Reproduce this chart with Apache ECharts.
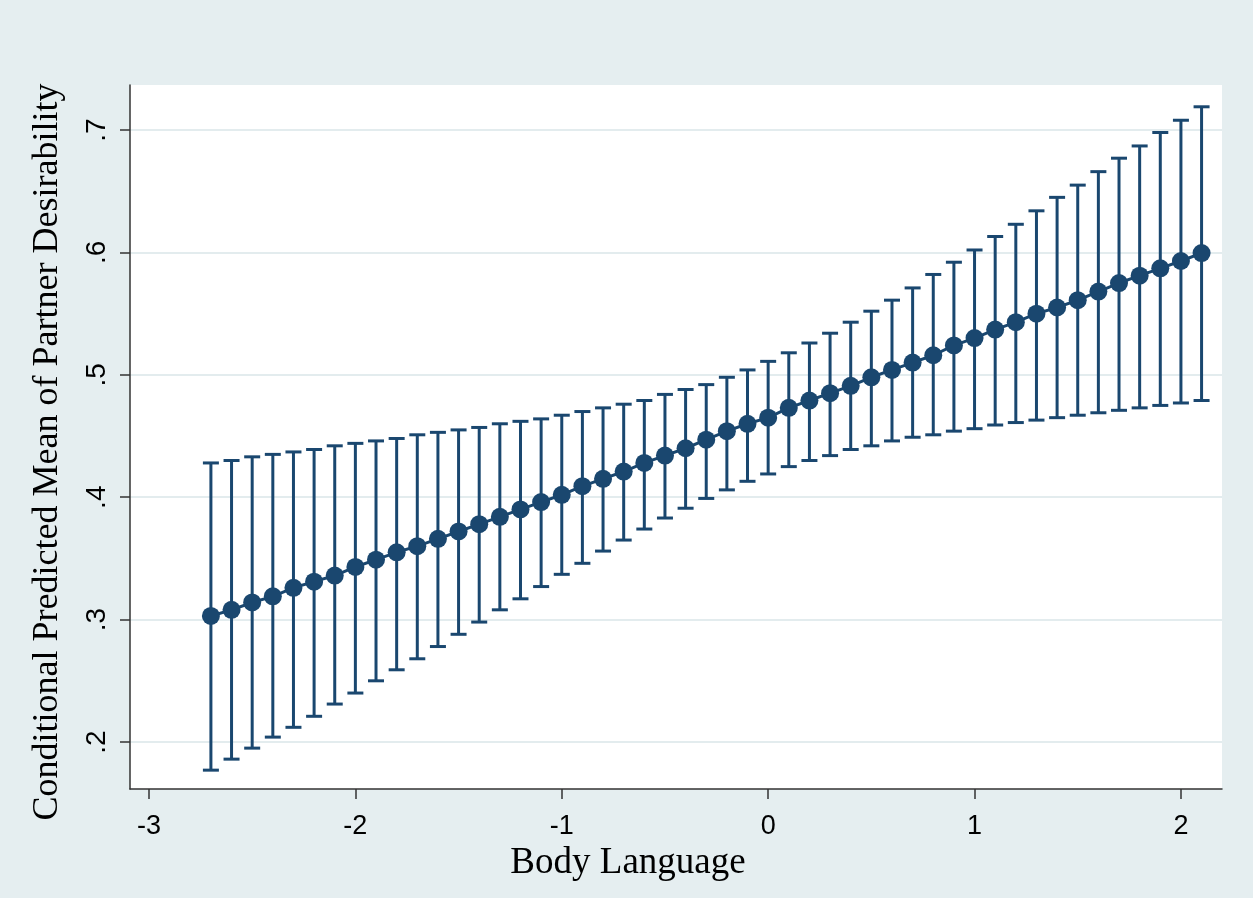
<!DOCTYPE html>
<html>
<head>
<meta charset="utf-8">
<script src="https://cdn.jsdelivr.net/npm/echarts@6/dist/echarts.min.js"></script>
<style>
  html, body { margin: 0; padding: 0; background: #e5eef0; }
  #container { width: 1253px; height: 898px; }
</style>
</head>
<body>
<div id="container"></div>
<script>
// body language values (x)
var xVals = [-2.7, -2.6, -2.5, -2.4, -2.3, -2.2, -2.1, -2.0, -1.9, -1.8,
             -1.7, -1.6, -1.5, -1.4, -1.3, -1.2, -1.1, -1.0, -0.9, -0.8,
             -0.7, -0.6, -0.5, -0.4, -0.3, -0.2, -0.1, 0.0, 0.1, 0.2,
             0.3, 0.4, 0.5, 0.6, 0.7, 0.8, 0.9, 1.0, 1.1, 1.2,
             1.3, 1.4, 1.5, 1.6, 1.7, 1.8, 1.9, 2.0, 2.1];
// predicted mean
var meanVals = [0.303, 0.308, 0.314, 0.319, 0.326, 0.331, 0.336, 0.343, 0.349, 0.355,
                0.360, 0.366, 0.372, 0.378, 0.384, 0.390, 0.396, 0.402, 0.409, 0.415,
                0.421, 0.428, 0.434, 0.440, 0.447, 0.454, 0.460, 0.465, 0.473, 0.479,
                0.485, 0.491, 0.498, 0.504, 0.510, 0.516, 0.524, 0.530, 0.537, 0.543,
                0.550, 0.555, 0.561, 0.568, 0.575, 0.581, 0.587, 0.593, 0.5995];
// upper CI
var upperVals = [0.428, 0.430, 0.433, 0.435, 0.437, 0.439, 0.442, 0.444, 0.446, 0.448,
                 0.451, 0.453, 0.455, 0.457, 0.460, 0.462, 0.464, 0.467, 0.470, 0.473,
                 0.476, 0.479, 0.484, 0.488, 0.492, 0.498, 0.504, 0.511, 0.518, 0.526,
                 0.534, 0.543, 0.552, 0.561, 0.571, 0.582, 0.592, 0.602, 0.613, 0.623,
                 0.634, 0.645, 0.655, 0.666, 0.677, 0.687, 0.698, 0.708, 0.719];
// lower CI
var lowerVals = [0.177, 0.186, 0.195, 0.204, 0.212, 0.221, 0.231, 0.240, 0.250, 0.259,
                 0.268, 0.278, 0.288, 0.298, 0.308, 0.317, 0.327, 0.337, 0.346, 0.356,
                 0.365, 0.374, 0.383, 0.391, 0.399, 0.406, 0.413, 0.419, 0.425, 0.430,
                 0.434, 0.439, 0.442, 0.446, 0.449, 0.451, 0.454, 0.456, 0.459, 0.461,
                 0.463, 0.465, 0.467, 0.469, 0.471, 0.473, 0.475, 0.477, 0.479];
var xTicks = [-3, -2, -1, 0, 1, 2];
var yTicks = [0.2, 0.3, 0.4, 0.5, 0.6, 0.7];

var navy = '#1a476f';
var myChart = echarts.init(document.getElementById('container'));

var ciData = [];
var meanData = [];
for (var i = 0; i < xVals.length; i++) {
    ciData.push([xVals[i], lowerVals[i], upperVals[i]]);
    meanData.push([xVals[i], meanVals[i]]);
}

var option = {
    backgroundColor: '#e5eef0',
    animation: false,
    grid: {
        left: 130,
        top: 85,
        width: 1092,
        height: 704,
        show: true,
        backgroundColor: '#ffffff',
        borderWidth: 0
    },
    xAxis: {
        type: 'value',
        min: -3.092,
        max: 2.199,
        name: 'Body Language',
        nameLocation: 'middle',
        nameGap: 56,
        nameTextStyle: {
            fontFamily: 'Liberation Serif',
            fontSize: 37,
            color: '#000',
            padding: [0, 96, 0, 0]
        },
        axisLine: { show: true, onZero: false, lineStyle: { color: '#333', width: 1.5 } },
        axisTick: { show: true, length: 10, customValues: xTicks, lineStyle: { color: '#333', width: 1.5 } },
        axisLabel: {
            customValues: xTicks,
            fontFamily: 'Liberation Sans',
            fontSize: 27,
            color: '#000',
            margin: 24
        },
        splitLine: { show: false }
    },
    yAxis: {
        type: 'value',
        min: 0.1616,
        max: 0.7368,
        name: 'Conditional Predicted Mean of Partner Desirability',
        nameLocation: 'middle',
        nameGap: 64,
        nameTextStyle: {
            fontFamily: 'Liberation Serif',
            fontSize: 36,
            color: '#000',
            padding: [0, 30, 0, 0]
        },
        axisLine: { show: true, onZero: false, lineStyle: { color: '#333', width: 1.5 } },
        axisTick: { show: true, length: 10, customValues: yTicks, lineStyle: { color: '#333', width: 1.5 } },
        axisLabel: {
            customValues: yTicks,
            rotate: 90,
            fontFamily: 'Liberation Sans',
            fontSize: 28,
            color: '#000',
            margin: 19,
            formatter: function (v) {
                return String(Math.round(v * 10) / 10).replace(/^0/, '');
            }
        },
        splitLine: { show: true, lineStyle: { color: '#e3ecee', width: 2 } }
    },
    series: [{
        type: 'custom',
        name: 'CI',
        data: ciData,
        renderItem: function (params, api) {
            var x = api.value(0);
            var lo = api.coord([x, api.value(1)]);
            var hi = api.coord([x, api.value(2)]);
            var half = 8;
            var style = { stroke: navy, lineWidth: 3 };
            return {
                type: 'group',
                children: [
                    { type: 'line', shape: { x1: lo[0], y1: lo[1], x2: hi[0], y2: hi[1] }, style: style },
                    { type: 'line', shape: { x1: lo[0] - half, y1: lo[1], x2: lo[0] + half, y2: lo[1] }, style: style },
                    { type: 'line', shape: { x1: hi[0] - half, y1: hi[1], x2: hi[0] + half, y2: hi[1] }, style: style }
                ]
            };
        },
        z: 2
    }, {
        type: 'line',
        name: 'Mean',
        data: meanData,
        symbol: 'circle',
        symbolSize: 18,
        itemStyle: { color: navy },
        lineStyle: { color: navy, width: 3 },
        z: 3
    }]
};
myChart.setOption(option);
</script>
</body>
</html>
